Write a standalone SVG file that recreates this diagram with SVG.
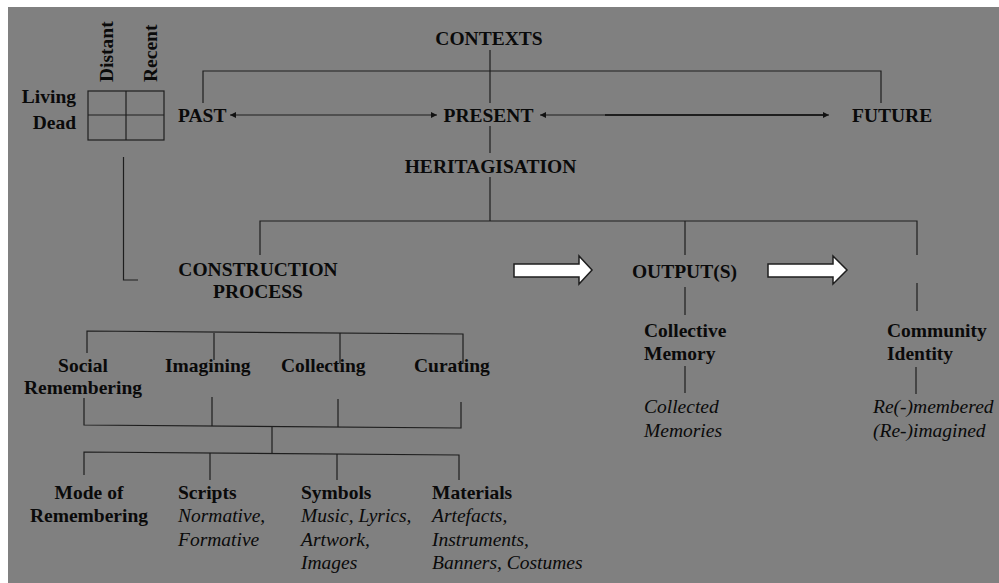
<svg xmlns="http://www.w3.org/2000/svg" width="999" height="583" viewBox="0 0 999 583">
<style>
text{font-family:"Liberation Serif","Times New Roman",serif;font-size:19.5px;fill:#0a0a0a}
.b{font-weight:bold}
.i{font-style:italic}
.m{text-anchor:middle}
.e{text-anchor:end}
.ln{fill:none;stroke:#1e1e1e;stroke-width:1.2}
.big{fill:#fff;stroke:#1e1e1e;stroke-width:1.5}
</style>
<defs>
<marker id="ah" viewBox="0 0 10 10" refX="10" refY="5" markerWidth="7" markerHeight="6" orient="auto-start-reverse" markerUnits="userSpaceOnUse">
<path d="M0,0 L10,5 L0,10 z" fill="#111"/>
</marker>
</defs>
<rect x="8" y="7" width="991" height="576" fill="#808080"/>

<g id="connectors">
<path class="ln" d="M203,103 V71 H881 V103"/>
<path class="ln" d="M490,50 V103"/>
<path class="ln" d="M490,126 V153"/>
<path class="ln" d="M490,177 V221"/>
<path class="ln" d="M260,255 V221 H917 V255"/>
<path class="ln" d="M685,221 V255"/>
<path class="ln" d="M685,287 V315"/>
<path class="ln" d="M685,366 V393"/>
<path class="ln" d="M917,283 V311"/>
<path class="ln" d="M916,367 V394"/>
<path class="ln" d="M123.5,157 V280 H138"/>
<line class="ln" x1="230" y1="115" x2="437" y2="115" marker-start="url(#ah)" marker-end="url(#ah)"/>
<line class="ln" x1="540" y1="115" x2="829" y2="115" marker-start="url(#ah)" marker-end="url(#ah)"/>
<line x1="605" y1="115" x2="823" y2="115" stroke="#1e1e1e" stroke-width="2"/>
<path class="ln" d="M87,353 V331 L463,334 V363"/>
<path class="ln" d="M214,333 V360"/>
<path class="ln" d="M340,333 V363"/>
<path class="ln" d="M84,398 V425 L461,428 V402"/>
<path class="ln" d="M212,397 V426"/>
<path class="ln" d="M338,399 V427"/>
<path class="ln" d="M272,427 V453"/>
<path class="ln" d="M84,475 V452 L459,455 V480"/>
<path class="ln" d="M210,453 V480"/>
<path class="ln" d="M337,454 V480"/>
<polygon class="big" points="514,264 579,264 579,256 592,270 579,284 579,277 514,277"/>
<polygon class="big" points="768,264 833,264 833,256 847,270 833,284 833,277 768,277"/>
</g>

<g id="grid">
<rect class="ln" x="88" y="91" width="76" height="49"/>
<line class="ln" x1="126" y1="91" x2="126" y2="140"/>
<line class="ln" x1="88" y1="115" x2="164" y2="115"/>
<text class="b e" x="76" y="103">Living</text>
<text class="b e" x="76" y="129">Dead</text>
<text class="b" transform="translate(113,82) rotate(-90)">Distant</text>
<text class="b" transform="translate(157,82) rotate(-90)">Recent</text>
</g>

<g id="contexts"><text class="b m" x="489" y="45">CONTEXTS</text></g>
<g id="past"><text class="b" x="178" y="122">PAST</text></g>
<g id="present"><text class="b m" x="488.5" y="122">PRESENT</text></g>
<g id="future"><text class="b" x="852" y="122">FUTURE</text></g>
<g id="heritagisation"><text class="b m" x="490.5" y="173">HERITAGISATION</text></g>
<g id="construction"><text class="b m" x="258" y="276">CONSTRUCTION</text><text class="b m" x="258" y="298">PROCESS</text></g>
<g id="outputs"><text class="b m" x="684.5" y="278">OUTPUT(S)</text></g>
<g id="collective-memory"><text class="b" x="644" y="337">Collective</text><text class="b" x="644" y="360">Memory</text></g>
<g id="collected-memories"><text class="i" x="644" y="413">Collected</text><text class="i" x="644" y="437">Memories</text></g>
<g id="community-identity"><text class="b" x="887" y="337">Community</text><text class="b" x="887" y="360">Identity</text></g>
<g id="remembered"><text class="i" x="873" y="413">Re(-)membered</text><text class="i" x="873" y="437">(Re-)imagined</text></g>
<g id="social"><text class="b m" x="83" y="372">Social</text><text class="b m" x="83" y="394">Remembering</text></g>
<g id="imagining"><text class="b" x="165" y="372">Imagining</text></g>
<g id="collecting"><text class="b" x="281" y="372">Collecting</text></g>
<g id="curating"><text class="b" x="414" y="372">Curating</text></g>
<g id="mode"><text class="b m" x="89" y="499">Mode of</text><text class="b m" x="89" y="522">Remembering</text></g>
<g id="scripts"><text class="b" x="178" y="499">Scripts</text><text class="i" x="178" y="522">Normative,</text><text class="i" x="178" y="546">Formative</text></g>
<g id="symbols"><text class="b" x="301" y="499">Symbols</text><text class="i" x="301" y="522">Music, Lyrics,</text><text class="i" x="301" y="546">Artwork,</text><text class="i" x="301" y="569">Images</text></g>
<g id="materials"><text class="b" x="432" y="499">Materials</text><text class="i" x="432" y="522">Artefacts,</text><text class="i" x="432" y="546">Instruments,</text><text class="i" x="432" y="569">Banners, Costumes</text></g>
</svg>
